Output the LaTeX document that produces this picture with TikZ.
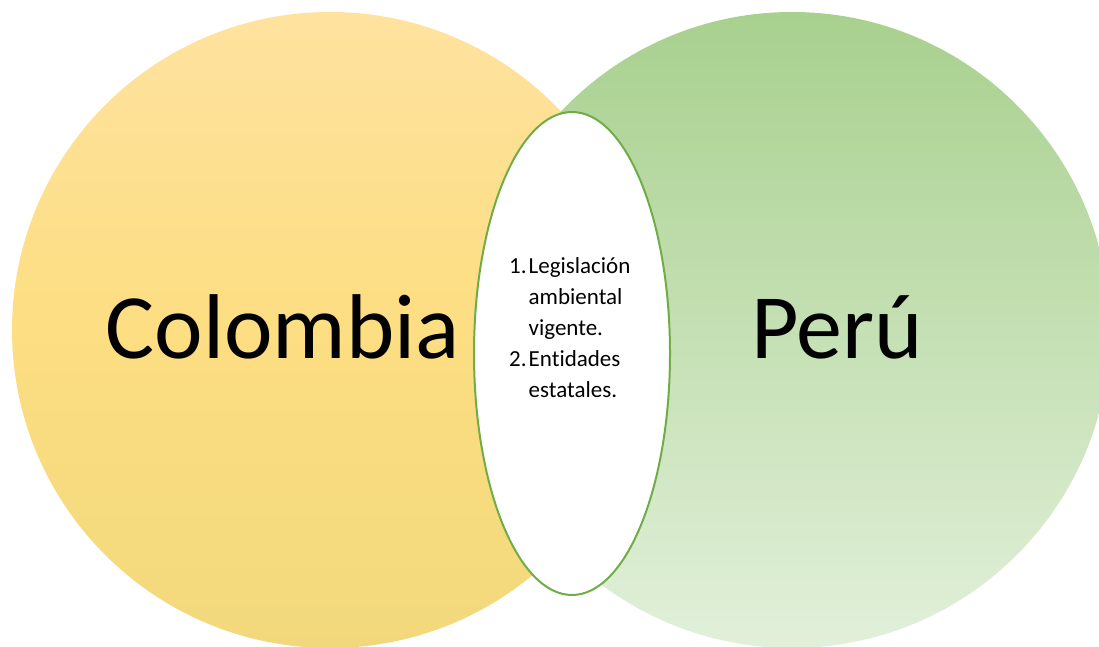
\documentclass[tikz,border=0pt]{standalone}
\usepackage{fontspec}
\setmainfont{Carlito}[Ligatures={NoCommon,NoRare}]
\usetikzlibrary{shapes.geometric}
\definecolor{coltop}{HTML}{FEE29F}
\definecolor{colmid}{HTML}{FDDE82}
\definecolor{colbot}{HTML}{F2D87C}
\definecolor{pertop}{HTML}{A8D08E}
\definecolor{perbot}{HTML}{E2F0DA}
\definecolor{ovalline}{HTML}{70AD47}
\tikzset{
  country/.style={circle,minimum size=636pt,inner sep=0pt},
  bigname/.style={font=\fontsize{92}{100}\selectfont,anchor=base,inner sep=0pt},
  listtext/.style={font=\fontsize{23}{31}\selectfont,align=left,inner sep=0pt}
}
\newcommand{\itemno}[1]{\makebox[19.5pt][l]{#1}}
\begin{document}
\begin{tikzpicture}[x=1pt,y=1pt]
\useasboundingbox (0,0) rectangle (1099,646);
\node[country,top color=coltop,bottom color=colbot,middle color=colmid] (col) at (330,316) {};
\node[country,top color=pertop,bottom color=perbot] (per) at (792,316) {};
\node[ellipse,draw=ovalline,line width=2pt,fill=white,minimum width=196pt,minimum height=483pt,inner sep=0pt] (oval) at (572,292.5) {};
\node[bigname] (colname) at (283,288) {Colombia};
\node[bigname] (pername) at (837,288) {Perú};
\node[listtext,anchor=base west] (lista) at (509,249) {\itemno{1.}Legislación\\
\hspace*{19.5pt}ambiental\\
\hspace*{19.5pt}vigente.\\
\itemno{2.}Entidades\\
\hspace*{19.5pt}estatales.};
\end{tikzpicture}
\end{document}
